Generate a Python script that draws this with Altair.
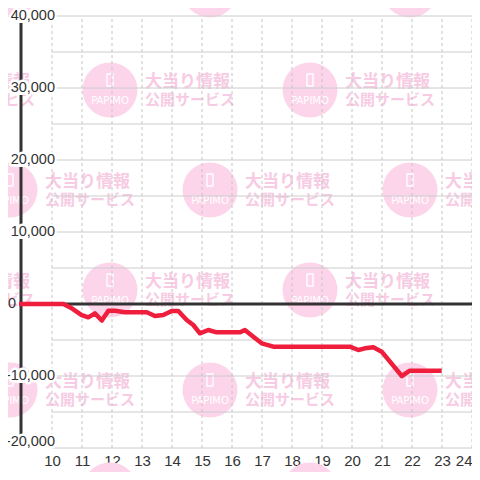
import altair as alt
import pandas as pd

# ---- data ----
hours = [8.9, 10.38, 10.66, 10.99, 11.21, 11.43, 11.66, 11.88, 12.1, 12.43, 13.16,
         13.43, 13.71, 13.99, 14.21, 14.49, 14.71, 14.93, 15.21, 15.49, 16.27,
         16.43, 16.71, 16.99, 17.38, 19.93, 20.21, 20.43, 20.71, 20.99, 21.66,
         21.93, 22.99]
balance = [0, 0, -600, -1530, -1850, -1300, -2300, -930, -930, -1150, -1150,
           -1670, -1530, -970, -970, -2220, -2920, -4070, -3610, -3930, -3930,
           -3610, -4540, -5460, -5930, -5930, -6390, -6160, -6020, -6620, -10000,
           -9260, -9260]
y_label_values = [-20000, -10000, 0, 10000, 20000, 30000, 40000]
y_grid_values = list(range(-20000, 40001, 5000))
x_tick_values = list(range(10, 25))
wm_line1 = "大当り情報"
wm_line2 = "公開サービス"
wm_logo = "PAPIMO"

# ---- geometry helpers (pixel of reference -> data units) ----
def hx(px):
    return 10 + (px - 52) / 30.0

def vy(py):
    return (304 - py) / 0.0072

X_MIN, X_MAX = hx(20), hx(472)
AXIS_X = hx(21)

xs = alt.Scale(domain=[X_MIN, X_MAX], nice=False, zero=False)
ys = alt.Scale(domain=[-20000, 40000], nice=False, zero=False)
x_axis = alt.Axis(values=x_tick_values, format="d", title=None, domain=False,
                  ticks=False, grid=False, labelFontSize=15, labelColor="#333333",
                  labelFont="Liberation Sans", labelPadding=5, labelFlush=False,
                  labelOverlap=False,
                  labelAlign=alt.condition("datum.value == 24", alt.value("right"), alt.value("center")))

def X(f):
    return alt.X(f, type="quantitative", scale=xs, axis=x_axis)

def Y(f):
    return alt.Y(f, type="quantitative", scale=ys, axis=None)

# ---- watermark tiles ----
rows = []
for i, cy in enumerate([-10, 90, 190, 290, 390, 490]):
    start = 10 if i % 2 == 0 else -90
    cx = start
    while cx < 480:
        rows.append(dict(cx=hx(cx), cy=vy(cy), icon=vy(cy - 10), logo=vy(cy + 11),
                         tx=hx(cx + 35), t1=vy(cy - 8), t2=vy(cy + 10)))
        cx += 200
wm = pd.DataFrame(rows)

circles = alt.Chart(wm).mark_circle(size=55 * 55, color="#fcd5ea", opacity=1, clip=False).encode(
    x=X("cx"), y=Y("cy"))
icons = alt.Chart(wm).mark_point(shape="M-0.5,-1L0.5,-1L0.5,1L-0.5,1Z", filled=False,
                                 color="white", strokeWidth=1.3, size=144, opacity=1,
                                 clip=False).encode(x=X("cx"), y=Y("icon"))
logos = alt.Chart(wm).mark_text(text=wm_logo, font="DejaVu Sans", fontSize=10,
                                color="white", baseline="middle", align="center",
                                clip=False).encode(x=X("cx"), y=Y("logo"))
text1 = alt.Chart(wm).mark_text(text=wm_line1, font="Noto Sans CJK JP", fontWeight="bold",
                                fontSize=17, color="#f7cbe3", align="left",
                                baseline="middle", clip=False).encode(x=X("tx"), y=Y("t1"))
text2 = alt.Chart(wm).mark_text(text=wm_line2, font="Noto Sans CJK JP", fontWeight="bold",
                                fontSize=15, color="#f7cbe3", align="left",
                                baseline="middle", clip=False).encode(x=X("tx"), y=Y("t2"))

# ---- grid ----
hgrid_df = pd.DataFrame({"v": y_grid_values, "x0": 10, "x1": X_MAX})
hgrid = alt.Chart(hgrid_df).mark_rule(color="#cccccc", strokeWidth=1).encode(
    x=X("x0"), x2="x1", y=Y("v"))
vgrid_df = pd.DataFrame({"h": x_tick_values, "y0": -20000, "y1": 40000})
vgrid = alt.Chart(vgrid_df).mark_rule(color="#c4c4c4", strokeWidth=1, strokeDash=[3, 3]).encode(
    x=X("h"), y=Y("y0"), y2="y1")

zero_df = pd.DataFrame({"x0": [X_MIN], "x1": [X_MAX], "v": [0]})
zero = alt.Chart(zero_df).mark_rule(color="#333333", strokeWidth=3).encode(
    x=X("x0"), x2="x1", y=Y("v"))
yline_df = pd.DataFrame({"x": [AXIS_X], "y0": [-20000], "y1": [40000]})
yline = alt.Chart(yline_df).mark_rule(color="#333333", strokeWidth=3).encode(
    x=X("x"), y=Y("y0"), y2="y1")

# ---- series ----
series = pd.DataFrame({"h": hours, "v": balance})
line = alt.Chart(series).mark_line(color="#ee1e3c", strokeWidth=4.5, strokeJoin="round",
                                   clip=False).encode(x=X("h"), y=Y("v"))

# ---- y labels (with white background) ----
lab_df = pd.DataFrame({"v": y_label_values,
                       "label": [f"{v:,}" for v in y_label_values]})
lab_df["xl"] = [hx(16) if v == 0 else hx(55) for v in y_label_values]
lab_df["yl"] = [v + 6 / 0.0072 if v == min(y_label_values) else v for v in y_label_values]
lab_df["xa"] = AXIS_X
lab_bg = alt.Chart(lab_df).transform_filter("datum.v != 0").mark_square(
    size=196, color="white", opacity=1).encode(x=X("xa"), y=Y("yl"))
lab_halo = alt.Chart(lab_df).transform_filter("datum.v != 0").mark_text(
    align="right", baseline="middle", fontSize=14.5, font="Liberation Sans", color="white",
    stroke="white", strokeWidth=5, strokeJoin="round", clip=False).encode(
    x=X("xl"), y=Y("yl"), text="label:N")
labels = alt.Chart(lab_df).mark_text(align="right", baseline="middle", fontSize=14.5,
                                     font="Liberation Sans", color="#333333",
                                     clip=False).encode(x=X("xl"), y=Y("yl"), text="label:N")

chart = alt.layer(circles, icons, logos, text1, text2, hgrid, vgrid, zero, yline,
                  lab_bg, lab_halo, labels, line).properties(
    width=452, height=432,
    autosize=alt.AutoSizeParams(type="none"),
    padding={"left": 12, "top": 8, "right": 0, "bottom": 24},
    background="white",
).configure_view(strokeWidth=0)

chart.save("out.html", embed_options={"renderer": "svg", "actions": False})
